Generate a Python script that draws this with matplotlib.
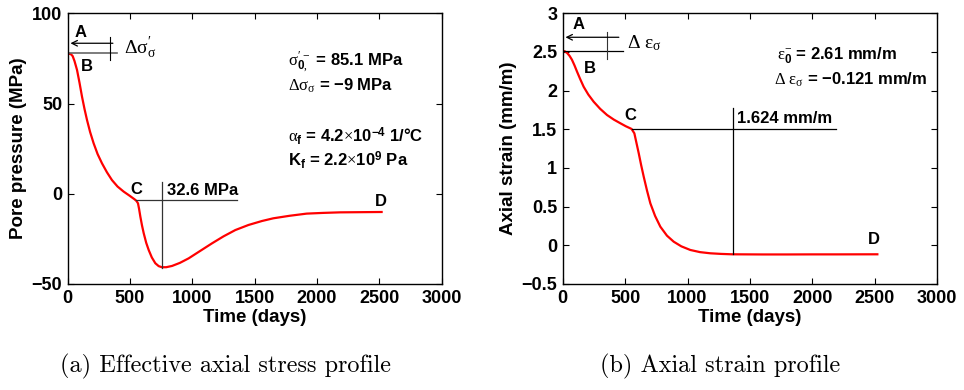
import matplotlib
matplotlib.use("Agg")
from matplotlib import pyplot as plt

# data
t_p = [0, 0, 10, 25, 40, 55, 75, 95, 115, 135, 155, 180, 208, 240, 275, 315, 355, 400,
       449, 495, 537, 552, 564, 573, 583, 596, 610, 630, 650, 675, 703, 730, 756, 790,
       837, 900, 970, 1060, 1157, 1250, 1345, 1450, 1558, 1649, 1780, 1917, 2050, 2184,
       2350, 2518]
p = [0.0, 77.4, 77.6, 77.4, 76.3, 73.5, 68.6, 61.5, 53.8, 47.0, 40.9, 34.2, 28.0, 22.0,
     16.9, 11.9, 7.6, 4.0, 1.2, -1.0, -3.1, -4.0, -5.3, -8.5, -12.7, -17.5, -21.9, -27.2,
     -31.2, -35.3, -38.5, -40.1, -40.7, -40.7, -40.0, -38.3, -35.8, -31.8, -27.5, -23.6,
     -20.1, -17.3, -15.1, -13.6, -12.2, -11.0, -10.6, -10.3, -10.2, -10.1]

t_e = [0, 0, 15, 34, 55, 74, 95, 115, 140, 168, 205, 248, 300, 355, 410, 462, 505, 541,
       552, 574, 590, 609, 628, 649, 675, 702, 740, 782, 835, 889, 950, 1022, 1100, 1182,
       1270, 1356, 1600, 1800, 2000, 2200, 2520]
e = [0.0, 2.51, 2.51, 2.49, 2.45, 2.40, 2.325, 2.245, 2.15, 2.05, 1.95, 1.857, 1.765,
     1.685, 1.625, 1.578, 1.54, 1.513, 1.504, 1.448, 1.33, 1.19, 1.04, 0.887, 0.71, 0.543,
     0.38, 0.241, 0.125, 0.047, -0.013, -0.06, -0.088, -0.103, -0.111, -0.116, -0.118,
     -0.118, -0.117, -0.117, -0.116]

xticks = [0, 500, 1000, 1500, 2000, 2500, 3000]
yticks_p = [-50, 0, 50, 100]
ylabs_p = ['\u221250', '0', '50', '100']
yticks_e = [-0.5, 0, 0.5, 1, 1.5, 2, 2.5, 3]
ylabs_e = ['\u22120.5', '0', '0.5', '1', '1.5', '2', '2.5', '3']

plt.rcParams['font.family'] = ['Liberation Sans', 'DejaVu Sans']
plt.rcParams['mathtext.fontset'] = 'custom'
plt.rcParams['mathtext.rm'] = 'Liberation Serif:weight=normal'
plt.rcParams['mathtext.it'] = 'Liberation Serif:italic'
plt.rcParams['mathtext.bf'] = 'Liberation Sans:weight=bold'

fig = plt.figure(figsize=(9.64, 3.9), dpi=100)
ax1 = fig.add_axes([0.0702, 0.2718, 0.388, 0.6941])
ax2 = fig.add_axes([0.5837, 0.2718, 0.3886, 0.6941])

FS = 12


def style(ax, yt, ylb, ylab):
    ax.set_xlim(0, 3000)
    ax.set_xticks(xticks)
    ax.set_xticklabels([str(v) for v in xticks], fontweight='bold')
    ax.set_yticks(yt)
    ax.set_yticklabels(ylb, fontweight='bold')
    ax.tick_params(direction='in', top=True, right=True, length=4, width=0.8,
                   labelsize=13, pad=4)
    for s in ax.spines.values():
        s.set_linewidth(1.0)
    ax.set_xlabel('Time (days)', fontsize=13.5, fontweight='bold', labelpad=2)
    ax.set_ylabel(ylab, fontsize=13.5, fontweight='bold', labelpad=3)


######
# (a) pore pressure
ax1.plot(t_p, p, c='red', lw=1.6)
ax1.set_ylim(-50, 100)
style(ax1, yticks_p, ylabs_p, 'Pore pressure (MPa)')

ax1.annotate('', xy=(0, 83.4), xytext=(385, 83.4),
             arrowprops=dict(arrowstyle='->', color='black', lw=0.9))
ax1.plot([0, 393], [78, 78], c='0.4', lw=1.2)
ax1.plot([339, 339], [74, 87], c='black', lw=0.8)
ax1.text(454, 80.6, r'$\mathrm{\Delta\sigma}^{\prime}_{\mathrm{\sigma}}$', fontsize=14,
         va='center', ha='left')
ax1.text(107, 89.5, 'A', fontsize=12, fontweight='bold', ha='center', va='center')
ax1.text(158, 70.4, 'B', fontsize=12, fontweight='bold', ha='center', va='center')
ax1.text(548, 2.5, 'C', fontsize=12, fontweight='bold', ha='center', va='center')
ax1.text(2511, -4.4, 'D', fontsize=12, fontweight='bold', ha='center', va='center')
ax1.plot([545, 1356], [-3.5, -3.5], c='0.2', lw=0.9)
ax1.plot([759, 759], [6.7, -41], c='0.2', lw=0.9)
ax1.text(794, -0.7, '32.6 MPa', fontsize=FS, fontweight='bold', ha='left', va='baseline')

ax1.text(1770, 70.4, r'$\mathrm{\sigma}^{\prime\,-}_{\mathbf{0},}$' + ' = 85.1 MPa',
         fontsize=FS, fontweight='bold', va='baseline')
ax1.text(1770, 56.9, r'$\mathrm{\Delta\sigma}_{\mathrm{\sigma}}$' + ' = \u22129 MPa',
         fontsize=FS, fontweight='bold', va='baseline')
ax1.text(1770, 28.9, r'$\mathrm{\alpha}_{\mathbf{f}}$ = 4.2$\mathrm{\times}$10$^{\mathbf{-4}}$ 1/°C',
         fontsize=FS, fontweight='bold', va='baseline')
ax1.text(1770, 15.6, r'K$_{\mathbf{f}}$ = 2.2$\mathrm{\times}$10$^{\mathbf{9}}$ Pa',
         fontsize=FS, fontweight='bold', va='baseline')

######
# (b) axial strain
ax2.plot(t_e, e, c='red', lw=1.6)
ax2.set_ylim(-0.5, 3)
style(ax2, yticks_e, ylabs_e, 'Axial strain (mm/m)')

ax2.annotate('', xy=(0, 2.69), xytext=(472, 2.69),
             arrowprops=dict(arrowstyle='->', color='black', lw=0.9))
ax2.plot([0, 480], [2.51, 2.51], c='black', lw=0.9)
ax2.plot([352, 352], [2.41, 2.76], c='0.2', lw=0.8)
ax2.text(512, 2.61, r'$\mathrm{\Delta\ \varepsilon}_{\mathrm{\sigma}}$', fontsize=14,
         va='center', ha='left')
ax2.text(125, 2.86, 'A', fontsize=12, fontweight='bold', ha='center', va='center')
ax2.text(219, 2.29, 'B', fontsize=12, fontweight='bold', ha='center', va='center')
ax2.text(545, 1.685, 'C', fontsize=12, fontweight='bold', ha='center', va='center')
ax2.text(2490, 0.078, 'D', fontsize=12, fontweight='bold', ha='center', va='center')
ax2.plot([552, 2188], [1.504, 1.504], c='black', lw=0.9)
ax2.plot([1361, 1361], [1.77, -0.112], c='black', lw=0.9)
ax2.text(1393, 1.578, '1.624 mm/m', fontsize=FS, fontweight='bold', ha='left', va='baseline')

ax2.text(1713, 2.41, r'$\mathrm{\varepsilon}^{-}_{\mathbf{0}}$' + ' = 2.61 mm/m',
         fontsize=FS, fontweight='bold', va='baseline')
ax2.text(1692, 2.073, r'$\mathrm{\Delta\ \varepsilon}_{\mathrm{\sigma}}$' + ' = \u22120.121 mm/m',
         fontsize=FS, fontweight='bold', va='baseline')

# sottotitoli
fig.text(0.234, 0.046, '(a) Effective axial stress profile', family='cmr10',
         fontsize=17.5, ha='center', va='baseline')
fig.text(0.7474, 0.046, '(b) Axial strain profile', family='cmr10',
         fontsize=17.5, ha='center', va='baseline')

fig.savefig('out.png', dpi=100)
